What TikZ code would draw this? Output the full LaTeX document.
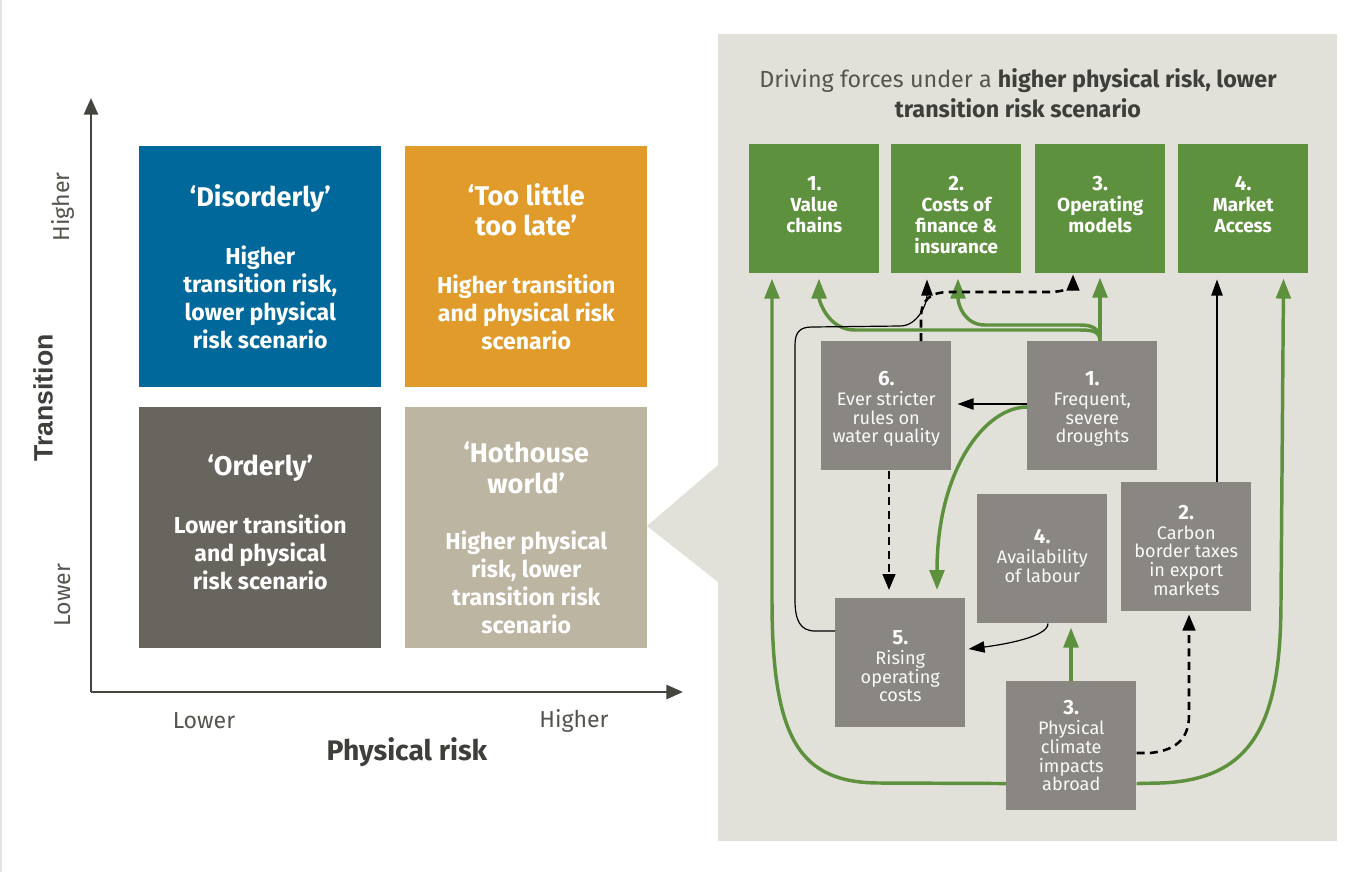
\documentclass[tikz,border=0pt]{standalone}
\usepackage{fontspec}
\setmainfont{Fira Sans}
\newfontfamily\arialfont{Liberation Sans}
\usetikzlibrary{arrows.meta,calc}

\definecolor{qblue}{HTML}{00689A}
\definecolor{qorange}{HTML}{E09B2A}
\definecolor{qdark}{HTML}{67655E}
\definecolor{qbeige}{HTML}{BCB5A2}
\definecolor{panel}{HTML}{E1E1D9}
\definecolor{leaf}{HTML}{5E913E}
\definecolor{stone}{HTML}{8A8782}
\definecolor{axis}{HTML}{45453F}
\definecolor{ink}{HTML}{3E3E3A}
\definecolor{softink}{HTML}{55554F}
\definecolor{edge}{HTML}{E4E4E4}

% heading size inside the scenario squares
\newcommand{\qh}{\fontsize{20.3}{24}\selectfont}
% bold item numbers; the optional strut lowers a block of text in its box
\newcommand{\bignum}[2][0pt]{{\bfseries\fontsize{15.5}{18}\selectfont\rule{0pt}{#1}#2}}

\tikzset{
  quad/.style={rectangle, anchor=north west, inner sep=0pt,
    minimum width=181.5pt, minimum height=180.75pt, text=white, align=center,
    font=\fontsize{17.3}{21}\selectfont\bfseries},
  driver/.style={rectangle, anchor=north west, inner sep=0pt, fill=leaf,
    minimum width=97.5pt, minimum height=96.75pt, text=white, align=center,
    font=\fontsize{14.2}{15.9}\selectfont\bfseries},
  force/.style={rectangle, anchor=north west, inner sep=0pt, fill=stone,
    minimum width=97.5pt, minimum height=96.75pt, text=white!95!stone, align=center,
    font=\fontsize{13.6}{14}\selectfont},
  gline/.style={draw=leaf, line width=2.6pt,
    -{Triangle[length=15pt,width=11pt]}},
  tline/.style={draw=black, line width=0.9pt,
    -{Triangle[length=12pt,width=8.5pt]}},
  dline/.style={draw=black, line width=1.9pt, dash pattern=on 6pt off 4pt,
    -{Triangle[length=12pt,width=9.5pt]}},
  axisline/.style={draw=axis, line width=2pt,
    -{Triangle[length=12.5pt,width=10.5pt]}},
  axislabel/.style={text=softink, font=\fontsize{17.3}{20}\selectfont},
}

\begin{document}
\begin{tikzpicture}[x=0.75pt,y=-0.75pt]
\useasboundingbox (0,0) rectangle (1371,872);
\fill[white] (0,0) rectangle (1371,872);
\draw[edge, line width=1.2pt] (0.8,0) -- (0.8,872);

% scenario matrix
\node[quad, fill=qblue]   (q1) at (139,146) {\qh ‘Disorderly’\\[22.5pt]Higher\\transition risk,\\lower physical\\risk scenario};
\node[quad, fill=qorange] (q2) at (405,146) {\qh ‘Too little\\[1.5pt]\qh too late’\\[22.5pt]Higher transition\\and physical risk\\scenario};
\node[quad, fill=qdark]   (q3) at (139,407) {\qh ‘Orderly’\\[22.5pt]Lower transition\\and physical\\risk scenario\rule[-9pt]{0pt}{1pt}};
\node[quad, fill=qbeige]  (q4) at (405,407) {\qh\rule{0pt}{31pt}‘Hothouse\\[2pt]\qh world’\\[21.5pt]Higher physical\\risk, lower\\transition risk\\scenario};

% axes
\coordinate (o) at (91,692);
\coordinate (ytip) at (91,98);
\coordinate (xtip) at (683,692);
\draw[axisline] (o) -- (ytip);
\draw[axisline] (o) -- (xtip);
\node[axislabel, rotate=90] (yhi) at (63,207) {Higher};
\node[axislabel, rotate=90] (ylo) at (63,595) {Lower};
\node[text=ink, rotate=90, font=\arialfont\bfseries\fontsize{20}{22}\selectfont] (ytitle) at (43,398) {Transition};
\node[axislabel] (xlo) at (204,721) {Lower};
\node[axislabel] (xhi) at (574,721) {Higher};
\node[text=ink, font=\bfseries\fontsize{21.2}{24}\selectfont] (xtitle) at (407,752) {Physical risk};

% detail panel with its pointer
\fill[panel] (718,34) rectangle (1337,841);
\fill[panel] (718,465) -- (647,526) -- (718,582) -- cycle;
\node[text=ink, align=center, font=\fontsize{17.5}{22.5}\selectfont] (head) at (1018,93)
  {{\color{softink}Driving forces under a} \textbf{higher physical risk, lower}\\\textbf{transition risk scenario}};

% driving forces
\node[driver] (d1) at (749,144) {\bignum[20pt]{1.}\\Value\\chains\\\mbox{}};
\node[driver] (d2) at (891,144) {\bignum[20pt]{2.}\\Costs of\\finance \&\\insurance};
\node[driver] (d3) at (1035,144) {\bignum[20pt]{3.}\\Operating\\models\\\mbox{}};
\node[driver] (d4) at (1178,144) {\bignum[20pt]{4.}\\Market\\Access\\\mbox{}};

% risk factors
\node[force] (f6) at (821,341) {\bignum[15.5pt]{6.}\\[1pt]Ever stricter\\rules on\\water quality};
\node[force] (f1) at (1027,341) {\bignum[15.5pt]{1.}\\[1pt]Frequent,\\severe\\droughts};
\node[force] (f4) at (977,494) {\bignum{4.}\\[1pt]Availability\\of labour\rule[-4pt]{0pt}{1pt}};
\node[force] (f2) at (1121,482) {\bignum[15.5pt]{2.}\\[1pt]Carbon\\border taxes\\in export\\markets};
\node[force] (f5) at (835,598) {\bignum[15.5pt]{5.}\\[1pt]Rising\\operating\\costs};
\node[force] (f3) at (1006,681) {\bignum{3.}\\[1pt]Physical\\climate\\impacts\\abroad};

% links out of factor 1
\draw[gline] ($(f1.north west)+(73,0)$) -- ($(d3.south west)+(65,4)$);
\draw[gline] ($(f1.north west)+(73,0)$) .. controls +(0,-10) and (1092,330) .. (1080,330)
  -- (855,330) .. controls (828,330) and ($(d1.south west)+(70,27)$) .. ($(d1.south west)+(70,5)$);
\draw[gline] ($(f1.north west)+(73,0)$) .. controls +(0,-13) and (1092,325) .. (1080,325)
  -- (985,325) .. controls (965,325) and ($(d2.south west)+(67,32)$) .. ($(d2.south west)+(67,5)$);
\draw[tline] ($(f1.north west)+(0,63)$) -- ($(f6.north east)+(6,63)$);
\draw[gline] ($(f1.north west)+(0,66)$) .. controls (985,407) and (937,470) .. ($(f5.north west)+(102,-8)$);

% links out of factor 6
\draw[dline] ($(f6.north west)+(100,0)$) -- (921,318) .. controls (921,300) and (930,292) .. (950,292)
  -- (1050,292) .. controls (1065,292) and ($(d3.south west)+(38,12)$) .. ($(d3.south west)+(38,1)$);
\draw[dline] ($(f6.south west)+(68,0)$) -- ($(f5.north west)+(54,-8)$);

% links out of factor 5
\draw[tline] ($(f5.north west)+(0,33)$) -- (815,631) .. controls (800,631) and (795,620) .. (795,600)
  -- (795,345) .. controls (795,332) and (800,327) .. (812,327)
  -- (900,326) .. controls (918,326) and ($(d2.south west)+(36,30)$) .. ($(d2.south west)+(36,6)$);

% links out of factor 4
\draw[tline] ($(f4.south west)+(71,0)$) .. controls +(0,14) and (1000,645) .. ($(f5.north east)+(3,51)$);

% links out of factor 3
\draw[gline] ($(f3.north west)+(65,0)$) -- ($(f4.south west)+(94,4)$);
\draw[dline] ($(f3.north east)+(0,72)$) -- (1150,753) .. controls (1180,750) and (1189,735) .. (1189,715)
  -- ($(f2.south west)+(68,3)$);
\draw[gline] ($(f3.south west)+(0,-27)$) -- (880,783) .. controls (800,783) and (772,740) .. (772,600)
  -- ($(d1.south west)+(23,5)$);
\draw[gline] ($(f3.south east)+(0,-27)$) -- (1160,783) .. controls (1255,780) and (1281,720) .. (1281,600)
  -- ($(d4.south east)+(-25,5)$);

% links out of factor 2
\draw[tline] ($(f2.north west)+(96,0)$) -- ($(d4.south west)+(39,6)$);
\end{tikzpicture}
\end{document}
